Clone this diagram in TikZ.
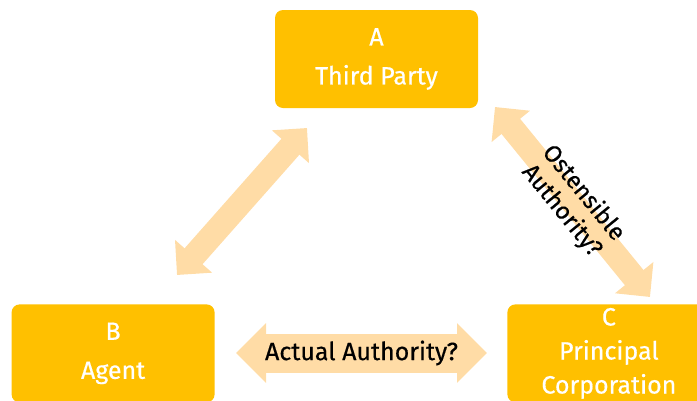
\documentclass[tikz,border=0pt]{standalone}
\usepackage{fontspec}
\setmainfont{Fira Sans}[FakeBold=0.5]
\usepackage{tikz}
\usetikzlibrary{positioning,arrows.meta}
\definecolor{boxgold}{RGB}{255,192,0}
\definecolor{peach}{RGB}{255,220,166}

\begin{document}
\begin{tikzpicture}[x=1pt,y=-1pt,
	box/.style={fill=boxgold,rounded corners=8pt,minimum width=203pt,minimum height=98pt,text=white,align=center,font=\fontsize{25}{39}\selectfont},
	arr/.style={draw=peach,line width=24pt,{Triangle[width=48pt,length=25pt]}-{Triangle[width=48pt,length=25pt]}},
	lbl/.style={text=black,align=center,font=\fontsize{24}{28}\selectfont}]
	\clip (0,0) rectangle (697,400);
	\useasboundingbox (0,0) rectangle (697,400);
	\node[box] (a) at (376.5,59) {A\\Third Party};
	\node[box] (b) [below left=196pt and 60pt of a] {B\\Agent};
	\node[box,font=\fontsize{25}{34}\selectfont] (c) [below right=196pt and 29pt of a] {C\\Principal\\Corporation};
	
	\coordinate (ab1) at (177,275);
	\coordinate (ab2) at (307,128);
	\coordinate (ac1) at (495,107);
	\coordinate (ac2) at (650,297);
	\coordinate (bc1) at (236,353);
	\coordinate (bc2) at (487,353);
	
	\draw[arr] (ab1) -- (ab2);
	\draw[arr] (ac1) -- node[lbl,sloped] {Ostensible\\Authority?} (ac2);
	\draw[arr,line width=39pt,{Triangle[width=58pt,length=30pt]}-{Triangle[width=58pt,length=30pt]}] (bc1) -- node[lbl,font=\fontsize{25}{28}\selectfont] {Actual Authority?} (bc2);
\end{tikzpicture}
\end{document}
